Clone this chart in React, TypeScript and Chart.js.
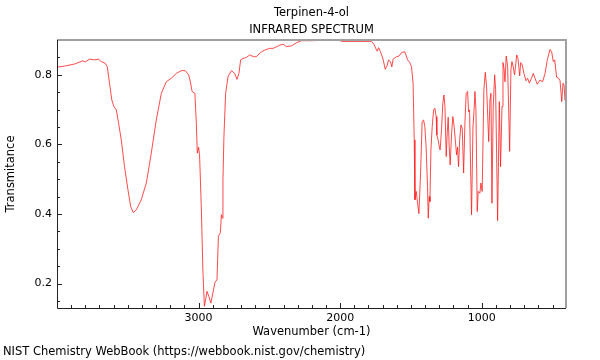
import React, { useEffect, useRef } from "react";
import { Chart, registerables } from "chart.js";

Chart.register(...registerables);

const titleLines = ["Terpinen-4-ol", "INFRARED SPECTRUM"];
const xAxisTitle = "Wavenumber (cm-1)";
const yAxisTitle = "Transmitance";
const footerText = "NIST Chemistry WebBook (https://webbook.nist.gov/chemistry)";

const xMajorTicks = [3000, 2000, 1000];
const yMajorTicks = [0.2, 0.4, 0.6, 0.8];

const wavenumber = [
  4000, 3947, 3876, 3818, 3801, 3770, 3735, 3707, 3688, 3659, 3645, 3629, 3613, 3598, 3581, 3565,
  3546, 3523, 3499, 3480, 3461, 3440, 3405, 3369, 3334, 3299, 3263, 3228, 3193, 3157, 3122, 3094,
  3070, 3056, 3046, 3026, 3016, 3009, 3000, 2993, 2981, 2969, 2959, 2950, 2941, 2927, 2913, 2899,
  2884, 2870, 2860, 2846, 2839, 2832, 2828, 2821, 2809, 2792, 2768, 2745, 2729, 2715, 2703, 2686,
  2662, 2639, 2611, 2592, 2563, 2533, 2498, 2474, 2427, 2404, 2380, 2344, 2309, 2274, 2215, 2097,
  2003, 1991, 1779, 1762, 1748, 1739, 1729, 1715, 1697, 1682, 1668, 1658, 1644, 1635, 1626, 1602,
  1583, 1566, 1543, 1524, 1508, 1496, 1485, 1477, 1472, 1463, 1453, 1444, 1432, 1421, 1411, 1402,
  1393, 1383, 1378, 1371, 1366, 1359, 1350, 1340, 1331, 1322, 1317, 1308, 1298, 1294, 1284, 1275,
  1267, 1260, 1251, 1244, 1237, 1230, 1223, 1213, 1204, 1195, 1185, 1178, 1171, 1164, 1156, 1147,
  1138, 1128, 1119, 1110, 1100, 1093, 1086, 1079, 1072, 1062, 1055, 1048, 1041, 1032, 1025, 1013,
  1006, 997, 985, 975, 966, 951, 942, 935, 928, 919, 909, 902, 888, 876, 867, 857,
  850, 843, 836, 827, 817, 803, 794, 787, 778, 768, 753, 744, 732, 725, 714, 702,
  688, 676, 664, 652, 636, 624, 608, 589, 570, 553, 537, 518, 506, 495, 485, 471,
  457, 447, 435, 426, 419, 412, 405,
];

const transmittance = [
  0.822, 0.825, 0.831, 0.840, 0.837, 0.845, 0.843, 0.845, 0.838, 0.833, 0.823, 0.776, 0.728, 0.709, 0.699, 0.661,
  0.613, 0.536, 0.470, 0.422, 0.404, 0.412, 0.441, 0.489, 0.575, 0.670, 0.747, 0.780, 0.790, 0.804, 0.812, 0.812,
  0.800, 0.776, 0.752, 0.747, 0.661, 0.575, 0.592, 0.570, 0.422, 0.231, 0.135, 0.154, 0.178, 0.163, 0.144, 0.173,
  0.204, 0.211, 0.336, 0.347, 0.398, 0.388, 0.498, 0.623, 0.747, 0.795, 0.812, 0.804, 0.787, 0.804, 0.843, 0.847,
  0.850, 0.857, 0.852, 0.852, 0.864, 0.871, 0.876, 0.876, 0.885, 0.888, 0.881, 0.883, 0.892, 0.898, 0.898, 0.899,
  0.899, 0.896, 0.896, 0.888, 0.875, 0.868, 0.878, 0.866, 0.845, 0.816, 0.827, 0.843, 0.837, 0.823, 0.845, 0.852,
  0.854, 0.864, 0.866, 0.843, 0.835, 0.823, 0.776, 0.613, 0.441, 0.465, 0.431, 0.401, 0.518, 0.666, 0.670, 0.651,
  0.594, 0.479, 0.388, 0.450, 0.436, 0.584, 0.651, 0.699, 0.704, 0.680, 0.627, 0.613, 0.589, 0.584, 0.642, 0.718,
  0.742, 0.709, 0.565, 0.632, 0.678, 0.594, 0.541, 0.632, 0.680, 0.651, 0.604, 0.570, 0.592, 0.536, 0.613, 0.656,
  0.647, 0.518, 0.661, 0.747, 0.752, 0.694, 0.699, 0.536, 0.398, 0.651, 0.694, 0.752, 0.699, 0.407, 0.465, 0.460,
  0.489, 0.465, 0.757, 0.807, 0.766, 0.608, 0.728, 0.747, 0.431, 0.709, 0.800, 0.757, 0.381, 0.723, 0.536, 0.709,
  0.835, 0.819, 0.780, 0.854, 0.823, 0.580, 0.814, 0.838, 0.823, 0.800, 0.857, 0.847, 0.797, 0.835, 0.828, 0.804,
  0.783, 0.790, 0.776, 0.787, 0.804, 0.790, 0.773, 0.785, 0.780, 0.804, 0.843, 0.873, 0.866, 0.838, 0.843, 0.793,
  0.790, 0.783, 0.723, 0.776, 0.771, 0.728, 0.747,
];

const X_MIN = 405;
const X_MAX = 4000;
const Y_MIN = 0.13;
const Y_MAX = 0.9;

const xMinorTicks: number[] = [];
for (let v = 3900; v >= 500; v -= 100) xMinorTicks.push(v);
const yMinorTicks: number[] = [];
for (let i = 3; i <= 17; i++) yMinorTicks.push(Math.round(i * 5) / 100);

const FONT = '"DejaVu Sans", sans-serif';

const decorPlugin = {
  id: "decor",
  afterDraw(chart: any) {
    const { ctx, chartArea } = chart;
    const xs = chart.scales.x;
    const ys = chart.scales.y;
    const { left, right, top, bottom } = chartArea;
    ctx.save();
    // frame
    ctx.strokeStyle = "#a0a0a0";
    ctx.lineWidth = 2;
    ctx.beginPath();
    ctx.moveTo(left, top);
    ctx.lineTo(right, top);
    ctx.lineTo(right, bottom);
    ctx.stroke();
    ctx.strokeStyle = "#222";
    ctx.lineWidth = 1;
    ctx.beginPath();
    ctx.moveTo(left + 0.5, top);
    ctx.lineTo(left + 0.5, bottom + 0.5);
    ctx.lineTo(right, bottom + 0.5);
    ctx.stroke();
    // ticks (inward)
    ctx.beginPath();
    for (const v of xMinorTicks) {
      const px = Math.round(xs.getPixelForValue(v)) + 0.5;
      const len = xMajorTicks.includes(v) ? 5 : 3;
      ctx.moveTo(px, bottom);
      ctx.lineTo(px, bottom - len);
    }
    for (const v of yMinorTicks) {
      const py = Math.round(ys.getPixelForValue(v)) + 0.5;
      const len = yMajorTicks.some((m) => Math.abs(m - v) < 1e-6) ? 5 : 3;
      ctx.moveTo(left, py);
      ctx.lineTo(left + len, py);
    }
    ctx.stroke();
    // texts
    ctx.fillStyle = "#000";
    ctx.font = `11.5px ${FONT}`;
    ctx.textAlign = "center";
    ctx.textBaseline = "middle";
    const cx = (left + right) / 2;
    ctx.fillText(titleLines[0], cx, 13);
    ctx.fillText(titleLines[1], cx, 30);
    ctx.fillText(xAxisTitle, cx, 332);
    ctx.textAlign = "left";
    ctx.fillText(footerText, 3, 352);
    ctx.save();
    ctx.translate(11, (top + bottom) / 2);
    ctx.rotate(-Math.PI / 2);
    ctx.textAlign = "center";
    ctx.fillText(yAxisTitle, 0, 0);
    ctx.restore();
    ctx.restore();
  },
};

export default function App() {
  const ref = useRef<HTMLCanvasElement | null>(null);
  useEffect(() => {
    if (!ref.current) return;
    const points = wavenumber.map((w, i) => ({ x: w, y: transmittance[i] }));
    const chart = new Chart(ref.current, {
      type: "line",
      data: {
        datasets: [
          {
            data: points,
            borderColor: "rgba(255, 30, 30, 0.8)",
            borderWidth: 1,
            pointRadius: 0,
            tension: 0,
            fill: false,
          },
        ],
      },
      options: {
        animation: false,
        responsive: false,
        devicePixelRatio: 1,
        layout: { padding: { left: 0, right: 34, top: 40, bottom: 0 } },
        plugins: { legend: { display: false }, tooltip: { enabled: false }, title: { display: false } },
        scales: {
          x: {
            type: "linear",
            reverse: true,
            min: X_MIN,
            max: X_MAX,
            grid: { display: false, drawTicks: false },
            border: { display: false },
            afterFit: (s: any) => {
              s.height = 52;
            },
            afterBuildTicks: (s: any) => {
              s.ticks = xMajorTicks.map((v) => ({ value: v }));
            },
            ticks: {
              autoSkip: false,
              maxRotation: 0,
              padding: 4,
              color: "#000",
              font: { family: FONT, size: 11 },
              callback: (v: any) => String(v),
            },
          },
          y: {
            type: "linear",
            min: Y_MIN,
            max: Y_MAX,
            grid: { display: false, drawTicks: false },
            border: { display: false },
            afterFit: (s: any) => {
              s.width = 57;
            },
            afterBuildTicks: (s: any) => {
              s.ticks = yMajorTicks.map((v) => ({ value: v }));
            },
            ticks: {
              autoSkip: false,
              padding: 5,
              color: "#000",
              font: { family: FONT, size: 11 },
              callback: (v: any) => Number(v).toFixed(1),
            },
          },
        },
      },
      plugins: [decorPlugin],
    });
    return () => chart.destroy();
  }, []);
  return (
    <div style={{ position: "absolute", left: 0, top: 0, width: 600, height: 360, background: "#fff" }}>
      <canvas ref={ref} width={600} height={360} style={{ display: "block" }} />
    </div>
  );
}
